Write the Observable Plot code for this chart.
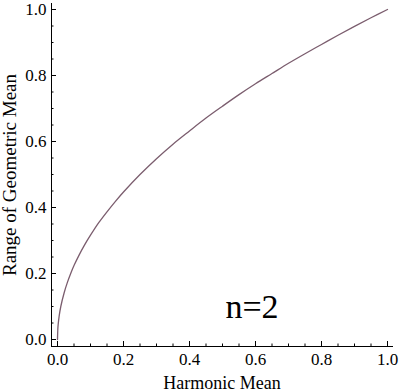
<!DOCTYPE html>
<html>
<head>
<meta charset="utf-8">
<script src="https://cdn.jsdelivr.net/npm/d3@7"></script>
<script src="https://cdn.jsdelivr.net/npm/@observablehq/plot@0.6"></script>
<style>
  html, body { margin: 0; padding: 0; background: white; }
</style>
</head>
<body>
<div id="chart"></div>
<script>
// Harmonic mean (x) and range of geometric mean (y)
const harmonic = [0, 0.001, 0.002, 0.005, 0.01, 0.02, 0.03, 0.04, 0.05, 0.065, 0.08, 0.1, 0.125, 0.15, 0.175, 0.2, 0.25, 0.3, 0.35, 0.4, 0.45, 0.5, 0.55, 0.6, 0.65, 0.7, 0.75, 0.8, 0.85, 0.9, 0.95, 1.0];
const geometric = [0, 0.032, 0.045, 0.071, 0.100, 0.141, 0.173, 0.200, 0.224, 0.255, 0.283, 0.316, 0.354, 0.387, 0.418, 0.447, 0.500, 0.548, 0.592, 0.632, 0.671, 0.707, 0.742, 0.775, 0.806, 0.837, 0.866, 0.894, 0.922, 0.949, 0.975, 1.0];
const majorTicks = [0, 0.2, 0.4, 0.6, 0.8, 1.0];
const minorTicks = [0.05, 0.1, 0.15, 0.25, 0.3, 0.35, 0.45, 0.5, 0.55, 0.65, 0.7, 0.75, 0.85, 0.9, 0.95];
const xLabel = "Harmonic Mean";
const yLabel = "Range of Geometric Mean";
const annotation = ["n=2"];

const data = harmonic.map((h, i) => ({h, g: geometric[i]}));
const blank = () => "";
const fmt = d3.format(".1f");

const chart = Plot.plot({
  width: 400,
  height: 392,
  marginLeft: 51,
  marginRight: 8,
  marginTop: 3,
  marginBottom: 46,
  insetLeft: 6,
  insetRight: 5,
  insetTop: 6,
  insetBottom: 7,
  x: {domain: [0, 1]},
  y: {domain: [0, 1]},
  style: {fontFamily: "Liberation Serif", fontSize: "17px", color: "black", background: "white"},
  marks: [
    Plot.frame({anchor: "left", stroke: "black"}),
    Plot.frame({anchor: "bottom", stroke: "black"}),
    Plot.axisX(minorTicks, {tickSize: -2.5, tickFormat: blank, label: null}),
    Plot.axisX(majorTicks, {tickSize: -5, tickFormat: blank, label: null}),
    Plot.axisX(majorTicks, {tickSize: 0, tickPadding: 6, tickFormat: fmt, fontSize: 17, label: null}),
    Plot.axisX([], {tickSize: 0, fontSize: 18,
      label: xLabel, labelAnchor: "center", labelOffset: 42, labelArrow: "none"}),
    Plot.axisY(minorTicks, {tickSize: -2.5, tickFormat: blank, label: null}),
    Plot.axisY(majorTicks, {tickSize: -5, tickFormat: blank, label: null}),
    Plot.axisY(majorTicks, {tickSize: 0, tickPadding: 5, tickFormat: fmt, fontSize: 17, label: null}),
    Plot.axisY([], {tickSize: 0, fontSize: 19,
      label: yLabel, labelAnchor: "center", labelOffset: 49, labelArrow: "none"}),
    Plot.line(data, {x: "h", y: "g", stroke: "#7b5d6e", strokeWidth: 1.3, curve: "catmull-rom"}),
    Plot.text(annotation, {text: d => d, frameAnchor: "bottom", dx: 30, dy: -29, lineAnchor: "bottom", fontSize: 34, fill: "black"})
  ]
});
document.getElementById("chart").appendChild(chart);
</script>
</body>
</html>
